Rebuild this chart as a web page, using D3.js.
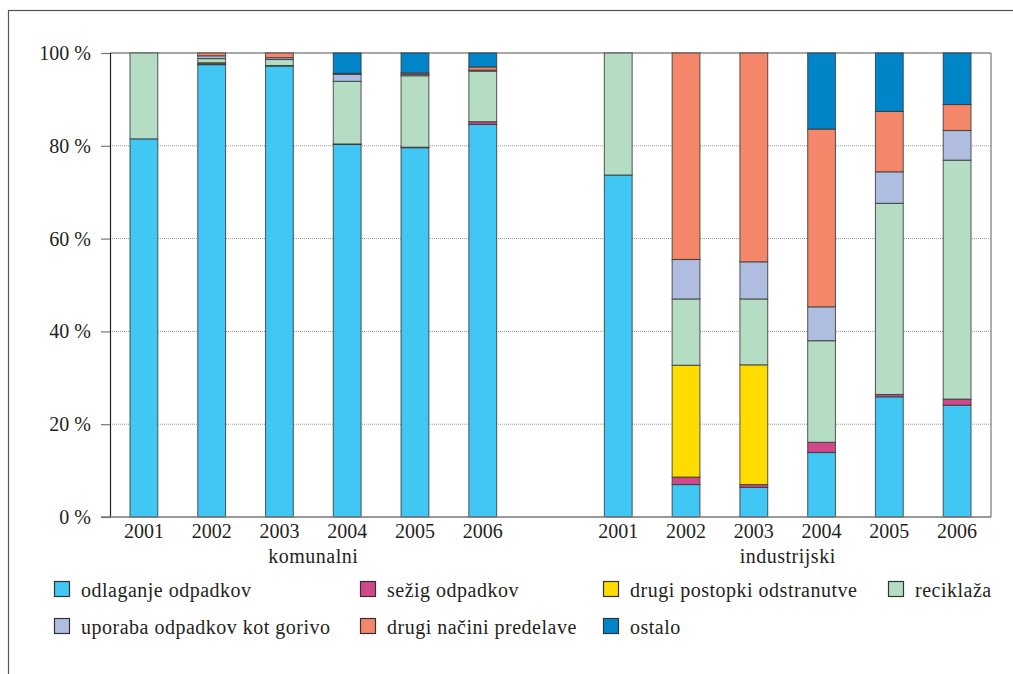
<!DOCTYPE html>
<html>
<head>
<meta charset="utf-8">
<script src="https://cdn.jsdelivr.net/npm/d3@7"></script>
<style>
  html, body { margin: 0; padding: 0; background: #fff; }
  svg text { font-family: "Liberation Serif", "DejaVu Serif", serif; fill: #231f20; }
</style>
</head>
<body>
<svg id="chart" width="1013" height="674"></svg>
<script>
// Waste treatment shares (%), by year, for municipal and industrial waste
const groups = ["komunalni", "industrijski"];
const years = ["2001", "2002", "2003", "2004", "2005", "2006"];
const yTicks = [0, 20, 40, 60, 80, 100];

// Each array: komunalni 2001–2006, then industrijski 2001–2006
const odlaganje  = [81.5, 97.5, 97.2, 80.3, 79.6, 84.6, 73.7,  7.0,  6.4, 13.9, 25.9, 24.1];
const sezig      = [ 0.0,  0.2,  0.1,  0.1,  0.1,  0.6,  0.0,  1.6,  0.6,  2.2,  0.5,  1.3];
const drugiOdstr = [ 0.0,  0.2,  0.0,  0.0,  0.0,  0.0,  0.0, 24.1, 25.8,  0.0,  0.0,  0.0];
const reciklaza  = [18.5,  0.9,  1.3, 13.5, 15.4, 10.9, 26.3, 14.3, 14.2, 21.9, 41.2, 51.5];
const uporaba    = [ 0.0,  0.6,  0.4,  1.5,  0.3,  0.2,  0.0,  8.5,  8.0,  7.3,  6.8,  6.4];
const drugiPred  = [ 0.0,  0.6,  1.0,  0.2,  0.3,  0.7,  0.0, 44.5, 45.0, 38.3, 13.0,  5.6];
const ostalo     = [ 0.0,  0.0,  0.0,  4.4,  4.3,  3.0,  0.0,  0.0,  0.0, 16.4, 12.6, 11.1];

const seriesKeys = ["odlaganje", "sezig", "drugiOdstr", "reciklaza", "uporaba", "drugiPred", "ostalo"];
const seriesLabels = [
  "odlaganje odpadkov", "sežig odpadkov", "drugi postopki odstranutve", "reciklaža",
  "uporaba odpadkov kot gorivo", "drugi načini predelave", "ostalo"
];
const seriesColors = ["#40c7f3", "#d0488a", "#ffdc00", "#b4ddc3", "#afbee0", "#f48769", "#0085c9"];
const seriesValues = [odlaganje, sezig, drugiOdstr, reciklaza, uporaba, drugiPred, ostalo];

// Build one row per bar, with an empty slot between the two groups
const rows = [];
groups.forEach((g, gi) => {
  years.forEach((y, yi) => {
    const row = { key: g + "-" + y, group: g, year: y };
    seriesKeys.forEach((k, si) => { row[k] = seriesValues[si][gi * years.length + yi]; });
    rows.push(row);
  });
});
const slots = [...rows.slice(0, 6).map(d => d.key), "gap", ...rows.slice(6).map(d => d.key)];

const svg = d3.select("#chart");
const m = { left: 110, right: 991, top: 53, bottom: 517 };

// Outer frame
svg.append("rect")
  .attr("x", 8.5).attr("y", 10.5).attr("width", 1020).attr("height", 700)
  .attr("fill", "none").attr("stroke", "#555").attr("stroke-width", 1.2);

const x = d3.scaleBand().domain(slots).range([m.left, m.right])
  .paddingInner(0.59).paddingOuter(0.295);
const y = d3.scaleLinear().domain([0, 100]).range([m.bottom, m.top]);

// Dotted gridlines
svg.append("g").selectAll("line")
  .data(yTicks.filter(t => t > 0 && t < 100))
  .join("line")
  .attr("x1", m.left).attr("x2", m.right)
  .attr("y1", d => y(d)).attr("y2", d => y(d))
  .attr("stroke", "#9a9a9a").attr("stroke-width", 1).attr("stroke-dasharray", "1,1");

// Plot box: top and right edges
svg.append("line").attr("x1", m.left).attr("x2", m.right).attr("y1", m.top).attr("y2", m.top)
  .attr("stroke", "#8a8a8a").attr("stroke-width", 1.5);
svg.append("line").attr("x1", m.right).attr("x2", m.right).attr("y1", m.top).attr("y2", m.bottom)
  .attr("stroke", "#777").attr("stroke-width", 1.2);

// Stacked bars
const stack = d3.stack().keys(seriesKeys);
const layers = stack(rows);
svg.append("g").selectAll("g")
  .data(layers)
  .join("g")
  .attr("fill", (d, i) => seriesColors[i])
  .selectAll("rect")
  .data(d => d.filter(s => s[1] - s[0] > 0))
  .join("rect")
  .attr("x", d => x(d.data.key))
  .attr("width", x.bandwidth())
  .attr("y", d => y(d[1]))
  .attr("height", d => y(d[0]) - y(d[1]))
  .attr("stroke", "#333").attr("stroke-opacity", 0.75).attr("stroke-width", 1.1);

// Y axis
const yAxis = d3.axisLeft(y).tickValues(yTicks).tickSize(9).tickPadding(10)
  .tickFormat(d => d + " %");
const yg = svg.append("g").attr("transform", `translate(${m.left},0)`).call(yAxis);
yg.select(".domain").attr("stroke", "#231f20").attr("stroke-width", 1.2);
yg.selectAll(".tick line").attr("stroke", "#777").attr("stroke-width", 1.2);
yg.selectAll(".tick text").attr("font-size", 20).attr("fill", "#231f20")
  .style("font-family", "'Liberation Serif', serif");

// Baseline
svg.append("line").attr("x1", m.left - 9).attr("x2", m.right).attr("y1", m.bottom).attr("y2", m.bottom)
  .attr("stroke", "#777").attr("stroke-width", 1.4);

// Year labels
svg.append("g").selectAll("text")
  .data(rows)
  .join("text")
  .attr("x", d => x(d.key) + x.bandwidth() / 2)
  .attr("y", 538)
  .attr("text-anchor", "middle")
  .attr("font-size", 20)
  .text(d => d.year);

// Group labels
svg.append("g").selectAll("text")
  .data(groups)
  .join("text")
  .attr("x", g => {
    const keys = rows.filter(r => r.group === g).map(r => x(r.key) + x.bandwidth() / 2);
    return (d3.min(keys) + d3.max(keys)) / 2;
  })
  .attr("y", 563)
  .attr("text-anchor", "middle")
  .attr("font-size", 20)
  .attr("letter-spacing", 0.5)
  .text(g => g);

// Legend
const legendCols = [54, 360, 603, 888];
const legendRows = [581, 618];
const legend = svg.append("g").selectAll("g")
  .data(seriesLabels.map((label, i) => ({ label, color: seriesColors[i], i })))
  .join("g")
  .attr("transform", d => {
    const r = d.i < 4 ? 0 : 1;
    const c = d.i < 4 ? d.i : d.i - 4;
    return `translate(${legendCols[c]},${legendRows[r]})`;
  });
legend.append("rect")
  .attr("x", 0.5).attr("y", 0.5).attr("width", 15).attr("height", 15)
  .attr("fill", d => d.color).attr("stroke", "#333").attr("stroke-width", 1.2);
legend.append("text")
  .attr("x", 27).attr("y", 15.5)
  .attr("font-size", 20)
  .attr("letter-spacing", 0.5)
  .text(d => d.label);
</script>
</body>
</html>
